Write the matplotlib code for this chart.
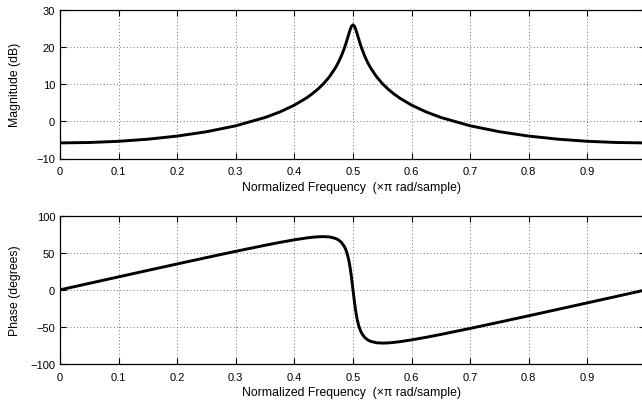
import matplotlib
matplotlib.use("Agg")
import matplotlib.pyplot as plt

# Normalized frequency (x pi rad/sample)
freq = [0, 0.05, 0.1, 0.15, 0.2, 0.25, 0.3, 0.35, 0.375, 0.4, 0.42, 0.43, 0.44,
        0.45, 0.46, 0.47, 0.475, 0.48, 0.485, 0.4875, 0.49, 0.4925, 0.495, 0.4975,
        0.5, 0.5025, 0.505, 0.5075, 0.51, 0.5125, 0.515, 0.52, 0.525, 0.53, 0.54,
        0.55, 0.56, 0.57, 0.58, 0.6, 0.625, 0.65, 0.7, 0.75, 0.8, 0.85, 0.9, 0.95,
        0.998]
# Magnitude (dB)
magnitude = [-5.80, -5.69, -5.37, -4.80, -3.96, -2.79, -1.19, 1.05, 2.53, 4.37,
             6.24, 7.37, 8.67, 10.20, 12.06, 14.42, 15.87, 17.57, 19.61, 20.78,
             22.05, 23.36, 24.65, 25.63, 26.02, 25.63, 24.65, 23.36, 22.05, 20.78,
             19.61, 17.57, 15.87, 14.42, 12.06, 10.20, 8.67, 7.37, 6.24, 4.37,
             2.53, 1.05, -1.19, -2.79, -3.96, -4.80, -5.37, -5.69, -5.80]
# Phase (degrees)
phase = [0, 8.77, 17.52, 26.25, 34.93, 43.53, 51.98, 60.12, 63.96, 67.49, 69.90,
         70.86, 71.55, 71.80, 71.33, 69.43, 67.45, 64.22, 58.77, 54.62, 48.99,
         41.23, 30.59, 16.58, 0, -16.58, -30.59, -41.23, -48.99, -54.62, -58.77,
         -64.22, -67.45, -69.43, -71.33, -71.80, -71.55, -70.86, -69.90, -67.49,
         -63.96, -60.12, -51.98, -43.53, -34.93, -26.25, -17.52, -8.77, -0.35]

xticks = [0, 0.1, 0.2, 0.3, 0.4, 0.5, 0.6, 0.7, 0.8, 0.9]
xticklabels = ["0", "0.1", "0.2", "0.3", "0.4", "0.5", "0.6", "0.7", "0.8", "0.9"]
mag_ticks = [-10, 0, 10, 20, 30]
phase_ticks = [-100, -50, 0, 50, 100]
xlabel = "Normalized Frequency  (\u00d7\u03c0 rad/sample)"

plt.rcParams["font.family"] = ["Liberation Sans", "DejaVu Sans"]
plt.rcParams["font.size"] = 8
plt.rcParams["axes.unicode_minus"] = True

W, H = 642, 402
fig = plt.figure(figsize=(W / 100, H / 100), dpi=100)

x0 = 60
unit = 586.0
x1 = x0 + unit * 0.998
axw = x1 - x0
boxes = [(11, 159.5), (216.7, 365)]
ax1 = fig.add_axes([x0 / W, 1 - boxes[0][1] / H, axw / W, (boxes[0][1] - boxes[0][0]) / H])
ax2 = fig.add_axes([x0 / W, 1 - boxes[1][1] / H, axw / W, (boxes[1][1] - boxes[1][0]) / H])

for ax, (top, bot), y, yt, ylab, ylim in [
    (ax1, boxes[0], magnitude, mag_ticks, "Magnitude (dB)", (-10, 30)),
    (ax2, boxes[1], phase, phase_ticks, "Phase (degrees)", (-100, 100)),
]:
    ax.plot(freq, y, color="black", lw=2.1, solid_joinstyle="round")
    ax.set_xlim(0, 0.998)
    ax.set_ylim(*ylim)
    ax.set_xticks(xticks)
    ax.set_xticklabels(xticklabels)
    ax.set_yticks(yt)
    ax.set_yticklabels([str(v).replace("-", "\u2212") for v in yt])
    ax.grid(True, color="#444444", linestyle=(0, (1, 3)), linewidth=0.6)
    ax.tick_params(direction="in", length=4, width=0.8, top=True, right=True,
                   labelsize=8, colors="black")
    ax.tick_params(axis="x", pad=5.5)
    ax.tick_params(axis="y", pad=3.5)
    for s in ax.spines.values():
        s.set_linewidth(0.9)
    h = bot - top
    ax.set_xlabel(xlabel, fontsize=8.8)
    ax.xaxis.set_label_coords((351 - x0) / axw, -22.5 / h)
    ax.set_ylabel(ylab, fontsize=8.8, va="center")
    ax.yaxis.set_label_coords((15 - x0) / axw, 0.5)

fig.savefig("out.png", dpi=100)
